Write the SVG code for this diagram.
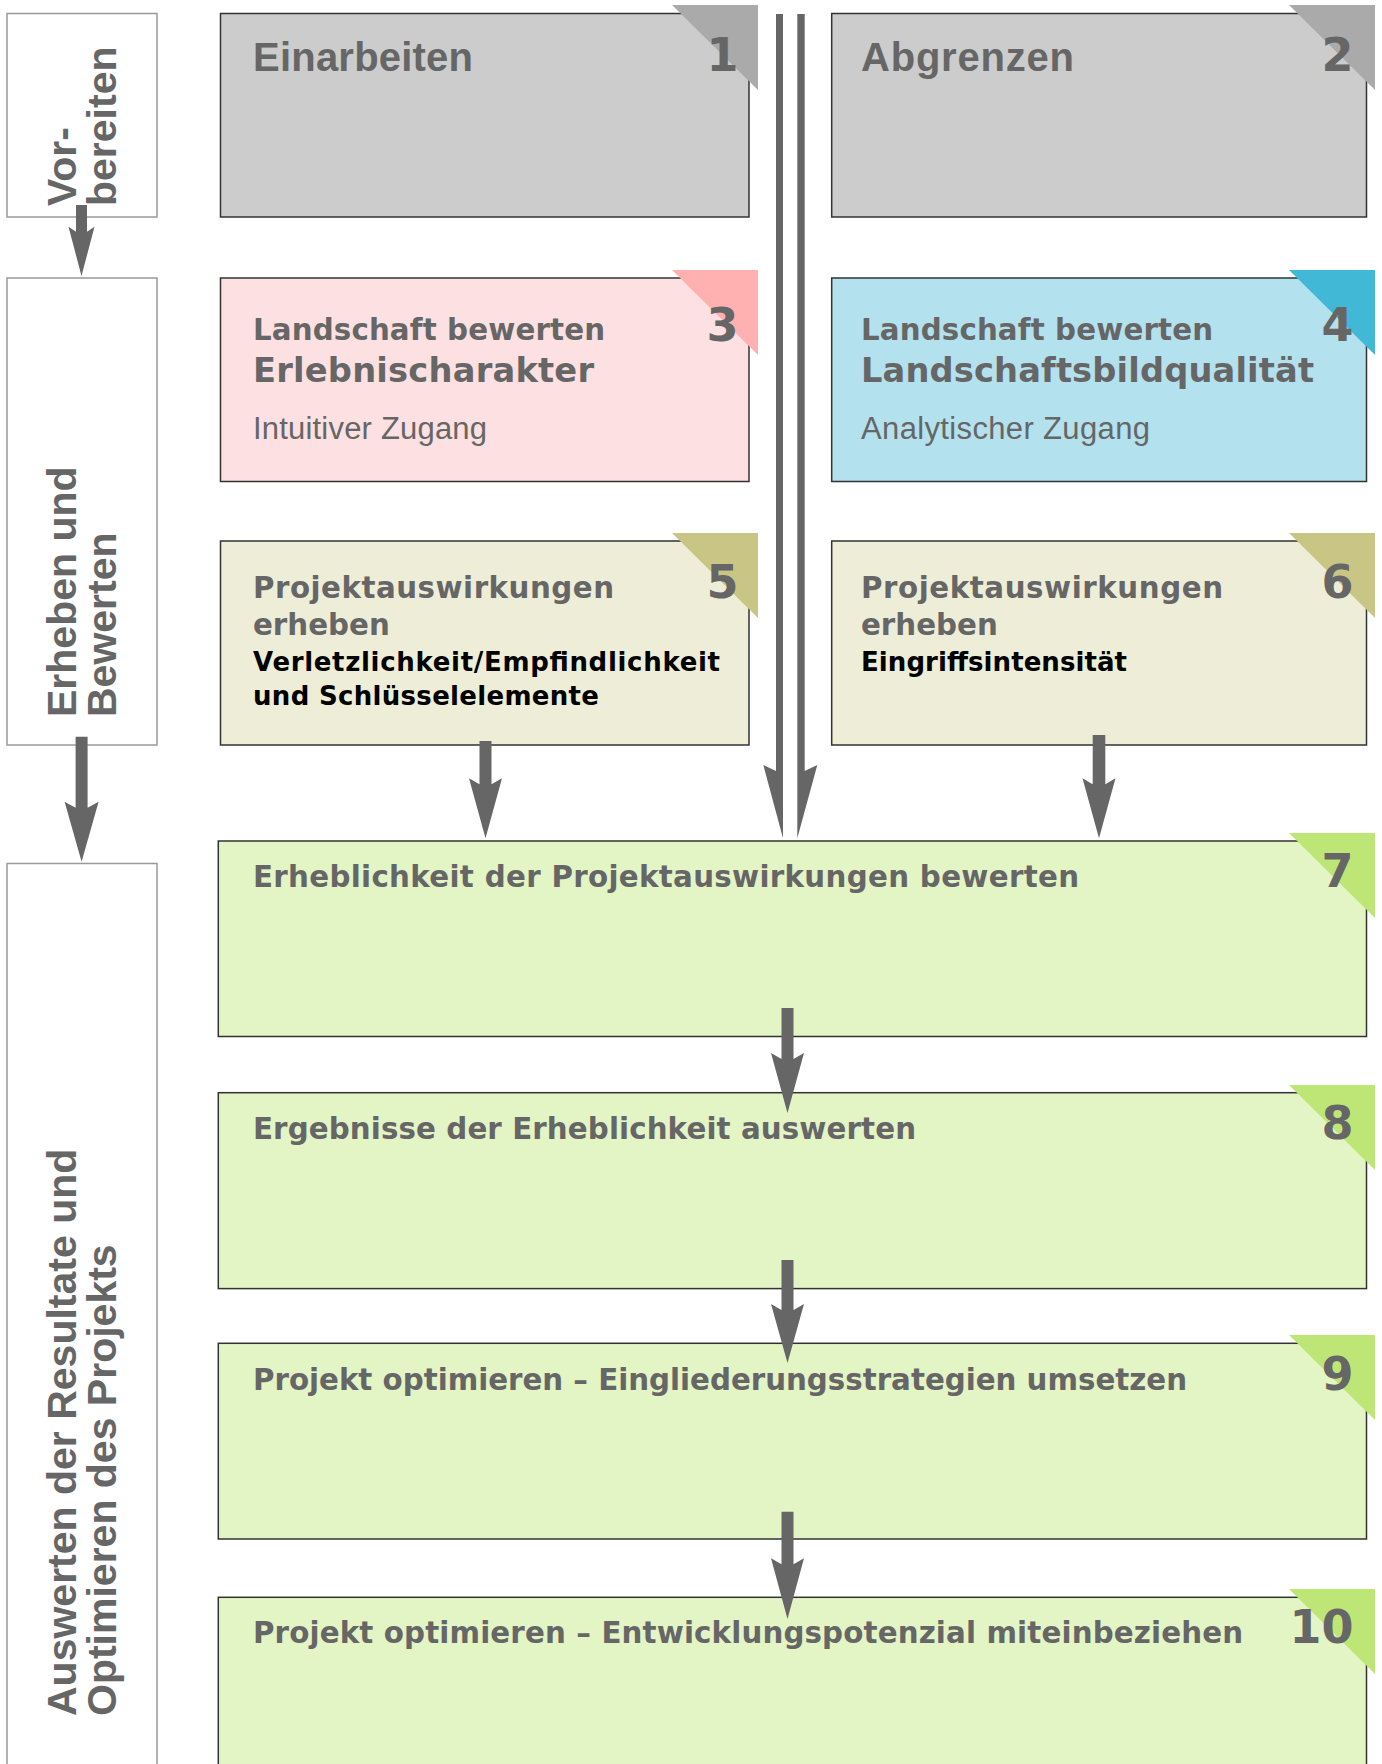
<svg xmlns="http://www.w3.org/2000/svg" width="1382" height="1764" viewBox="0 0 1382 1764">
<style>
.side{fill:#fff;stroke:#999;stroke-width:1.5}
.box{stroke:#333;stroke-width:1.5}
.grey{fill:#cccccc}.pink{fill:#fde0e1}.blue{fill:#b3e1ee}.beige{fill:#eeeed8}.green{fill:#e3f4c5}
.tgrey{fill:#aaaaaa}.tpink{fill:#ffb0b0}.tblue{fill:#41b8d6}.tbeige{fill:#c9c584}.tgreen{fill:#bee677}
.t1{font-family:"Liberation Sans",Arial,sans-serif;font-weight:bold;font-size:40px;fill:#666}
.sub{font-family:"DejaVu Sans",Verdana,sans-serif;font-weight:bold;font-size:29.3px;fill:#666}
.big{font-family:"DejaVu Sans",Verdana,sans-serif;font-weight:bold;font-size:33.7px;fill:#666}
.lt{font-family:"Liberation Sans",Arial,sans-serif;font-size:31px;fill:#666}
.blk{font-family:"DejaVu Sans",Verdana,sans-serif;font-weight:bold;font-size:26px;fill:#000}
.num{font-family:"DejaVu Sans",Verdana,sans-serif;font-weight:bold;font-size:46px;fill:#666;text-anchor:end}
.vert{font-family:"Liberation Sans",Arial,sans-serif;font-weight:bold;font-size:41px;fill:#666}
.arr{fill:#666}
</style>

<g id="phase-vorbereiten">
<rect class="side" x="7" y="13.5" width="150" height="203.5"/>
<text class="vert" transform="translate(75.5,206) rotate(-90)">Vor-</text>
<text class="vert" transform="translate(116,206) rotate(-90)">bereiten</text>
</g>
<g id="phase-erheben">
<rect class="side" x="7" y="278" width="150" height="467"/>
<text class="vert" transform="translate(75.5,717) rotate(-90)">Erheben und</text>
<text class="vert" transform="translate(116,717) rotate(-90)">Bewerten</text>
</g>
<g id="phase-auswerten">
<rect class="side" x="7" y="863.5" width="150" height="910"/>
<text class="vert" transform="translate(75.5,1716) rotate(-90)">Auswerten der Resultate und</text>
<text class="vert" transform="translate(116,1716) rotate(-90)">Optimieren des Projekts</text>
</g>

<g id="step1">
<rect class="box grey" x="220.5" y="13.5" width="528.5" height="203.5"/>
<polygon class="tgrey" points="672,5 758,5 758,90"/>
<text class="t1" x="253" y="70.7" textLength="220" lengthAdjust="spacing">Einarbeiten</text>
<text class="num" x="738.5" y="70.7">1</text>
</g>
<g id="step2">
<rect class="box grey" x="831.7" y="13.5" width="534.8" height="203.5"/>
<polygon class="tgrey" points="1289,5 1375,5 1375,90"/>
<text class="t1" x="861" y="70.7" textLength="213" lengthAdjust="spacing">Abgrenzen</text>
<text class="num" x="1353.5" y="70.7">2</text>
</g>
<g id="step3">
<rect class="box pink" x="220.5" y="278" width="528.5" height="203.5"/>
<polygon class="tpink" points="672,270 758,270 758,355"/>
<text class="sub" x="253" y="340" textLength="352" lengthAdjust="spacing">Landschaft bewerten</text>
<text class="big" x="253" y="382" textLength="341" lengthAdjust="spacing">Erlebnischarakter</text>
<text class="lt" x="253" y="439" textLength="234" lengthAdjust="spacing">Intuitiver Zugang</text>
<text class="num" x="738.5" y="340.5">3</text>
</g>
<g id="step4">
<rect class="box blue" x="831.7" y="278" width="534.8" height="203.5"/>
<polygon class="tblue" points="1289,270 1375,270 1375,355"/>
<text class="sub" x="861" y="340" textLength="352" lengthAdjust="spacing">Landschaft bewerten</text>
<text class="big" x="861" y="382" textLength="453" lengthAdjust="spacing">Landschaftsbildqualität</text>
<text class="lt" x="861" y="439" textLength="289" lengthAdjust="spacing">Analytischer Zugang</text>
<text class="num" x="1353.5" y="340.5">4</text>
</g>
<g id="step5">
<rect class="box beige" x="220.5" y="541" width="528.5" height="204"/>
<polygon class="tbeige" points="672,533 758,533 758,618"/>
<text class="sub" x="253" y="598" textLength="361" lengthAdjust="spacing">Projektauswirkungen</text>
<text class="sub" x="253" y="634.5">erheben</text>
<text class="blk" x="253" y="671" textLength="467" lengthAdjust="spacing">Verletzlichkeit/Empfindlichkeit</text>
<text class="blk" x="253" y="705" textLength="346" lengthAdjust="spacing">und Schlüsselelemente</text>
<text class="num" x="738.5" y="598">5</text>
</g>
<g id="step6">
<rect class="box beige" x="831.7" y="541" width="534.8" height="204"/>
<polygon class="tbeige" points="1289,533 1375,533 1375,618"/>
<text class="sub" x="861" y="598" textLength="362" lengthAdjust="spacing">Projektauswirkungen</text>
<text class="sub" x="861" y="634.5">erheben</text>
<text class="blk" x="861" y="671" textLength="266" lengthAdjust="spacing">Eingriffsintensität</text>
<text class="num" x="1353.5" y="598">6</text>
</g>
<g id="step7">
<rect class="box green" x="218.3" y="841" width="1148.2" height="195.5"/>
<polygon class="tgreen" points="1289,833 1375,833 1375,918"/>
<text class="sub" x="253" y="887" textLength="826" lengthAdjust="spacing">Erheblichkeit der Projektauswirkungen bewerten</text>
<text class="num" x="1353.5" y="887">7</text>
</g>
<g id="step8">
<rect class="box green" x="218.3" y="1092.7" width="1148.2" height="195.9"/>
<polygon class="tgreen" points="1289,1085 1375,1085 1375,1170"/>
<text class="sub" x="253" y="1139" textLength="663" lengthAdjust="spacing">Ergebnisse der Erheblichkeit auswerten</text>
<text class="num" x="1353.5" y="1139">8</text>
</g>
<g id="step9">
<rect class="box green" x="218.3" y="1343.3" width="1148.2" height="195.7"/>
<polygon class="tgreen" points="1289,1335 1375,1335 1375,1420"/>
<text class="sub" x="253" y="1390" textLength="934" lengthAdjust="spacing">Projekt optimieren – Eingliederungsstrategien umsetzen</text>
<text class="num" x="1353.5" y="1390">9</text>
</g>
<g id="step10">
<rect class="box green" x="218.3" y="1597.3" width="1148.2" height="180"/>
<polygon class="tgreen" points="1289,1589 1375,1589 1375,1674"/>
<text class="sub" x="253" y="1643" textLength="990" lengthAdjust="spacing">Projekt optimieren – Entwicklungspotenzial miteinbeziehen</text>
<text class="num" x="1353.5" y="1643">10</text>
</g>

<g id="connectors">
<path class="arr" d="M76,205 H87 V231.7 L94.5,226.7 L81.5,276 L68.5,226.7 L76,231.7 Z"/>
<path class="arr" d="M75.6,736.7 H87.6 V807.7 L98.6,801.7 L81.6,861.7 L64.6,801.7 L75.6,807.7 Z"/>
<path class="arr" d="M479.5,741 H491.5 V784.3 L502,778.3 L485.5,838.3 L469,778.3 L479.5,784.3 Z"/>
<path class="arr" d="M1092.7,735 H1105.3 V784.3 L1115.5,778.3 L1099,838.3 L1082.5,778.3 L1092.7,784.3 Z"/>
<path class="arr" d="M776,14 H783 V838.3 L763.3,765 L776,771 Z"/>
<path class="arr" d="M797.3,14 H804.7 V771 L817.3,765 L797.3,838.3 Z"/>
<path class="arr" d="M781.5,1008 H793.5 V1059 L804,1053 L787.5,1113 L771,1053 L781.5,1059 Z"/>
<path class="arr" d="M781.5,1260 H793.5 V1310 L804,1304 L787.5,1363 L771,1304 L781.5,1310 Z"/>
<path class="arr" d="M781.5,1511.7 H793.5 V1564.3 L804,1558.3 L787.5,1619 L771,1558.3 L781.5,1564.3 Z"/>
</g>
</svg>
